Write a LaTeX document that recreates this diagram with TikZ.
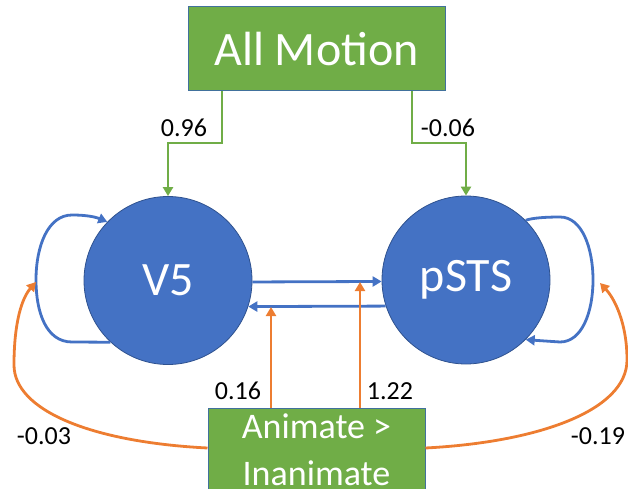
\documentclass[tikz,border=0pt]{standalone}
\usepackage{fontspec}
\setmainfont{Carlito}
\usetikzlibrary{arrows.meta,calc}
\definecolor{pblue}{HTML}{4472C4}
\definecolor{pblueline}{HTML}{2F528F}
\definecolor{pgreen}{HTML}{70AD47}
\definecolor{pgreenline}{HTML}{41719C}
\definecolor{porange}{HTML}{ED7D31}
\tikzset{
  region/.style={circle, fill=pblue, draw=pblueline, line width=0.8pt, minimum size=168pt, inner sep=0pt, text=white, font=\fontsize{48}{56}\selectfont},
  inbox/.style={rectangle, fill=pgreen, draw=pgreenline, line width=1pt, inner sep=0pt, text=white},
  tip/.style={-{Triangle[length=9pt,width=10pt]}},
  barrow/.style={tip, draw=pblue, line width=2.8pt},
  garrow/.style={tip, draw=pgreen, line width=2.8pt},
  oarrow/.style={tip, draw=porange, line width=2.8pt},
  val/.style={font=\fontsize{26}{30}\selectfont, text=black, inner sep=0pt},
}
\begin{document}
\begin{tikzpicture}[x=1pt,y=-1pt]
\useasboundingbox (0,0) rectangle (628,489);
% input boxes
\node[inbox, minimum width=257pt, minimum height=84pt, font=\fontsize{48}{56}\selectfont] (am) at (316.5,49) {All Motion};
\node[inbox, minimum width=217pt, minimum height=100pt] (an) at (316.5,458) {};
\node[text=white, anchor=base, inner sep=0pt, font=\fontsize{36}{44}\selectfont] (an1) at (316.5,438) {Animate >};
\node[text=white, anchor=base, inner sep=0pt, font=\fontsize{36}{44}\selectfont] (an2) at (316.5,485) {Inanimate};
% regions
\node[region] (v5) at (168,280.5) {V5};
\node[region] (psts) at (466,280) {pSTS};
% self loops
\draw[barrow] (v5.227) -- (72,342) .. controls (46,342) and (36,312) .. (36,280) .. controls (36,246) and (48,215) .. (72,215) .. controls (90,215) and (98,218) .. (v5.136);
\draw[barrow] (psts.45) .. controls (532,218) and (545,217) .. (560,217) .. controls (582,217) and (593,248) .. (593,280) .. controls (593,312) and (582,342) .. (560,342) -- (psts.-45);
% reciprocal connections
\draw[barrow] (v5.-1.4) -- (psts.181.4);
\draw[barrow] (psts.198.7) -- (v5.-18.7);
% all motion inputs
\coordinate (g1) at (222,143);
\coordinate (g2) at (412,143);
\draw[garrow] (g1 |- am.south) -- (g1) -| (v5.north);
\draw[garrow] (g2 |- am.south) -- (g2) -| (psts.north);
% animate > inanimate modulations
\coordinate (o1) at (271,307);
\coordinate (o2) at (360,282);
\draw[oarrow] (o1 |- an.north) -- (o1);
\draw[oarrow] (o2 |- an.north) -- (o2);
\coordinate (oL) at (36,282);
\coordinate (oR) at (600,283);
\draw[oarrow] (an.west |- 0,448) .. controls (90,442) and (14,410) .. (14,365) .. controls (14,322) and (22,298) .. (oL);
\draw[oarrow] (an.east |- 0,448) .. controls (540,442) and (627,410) .. (627,360) .. controls (627,322) and (614,298) .. (oR);
% values
\node[val] (l1) at (184,128) {0.96};
\node[val] (l2) at (448,128) {-0.06};
\node[val] (l3) at (238,391) {0.16};
\node[val] (l4) at (390,391) {1.22};
\node[val] (l5) at (44,436) {-0.03};
\node[val] (l6) at (598,436) {-0.19};
\end{tikzpicture}
\end{document}
